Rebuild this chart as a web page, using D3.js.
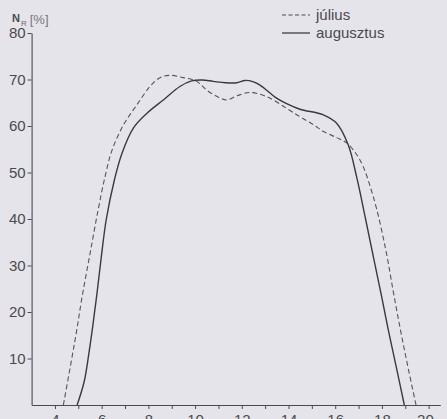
<!DOCTYPE html>
<html>
<head>
<meta charset="utf-8">
<script src="https://cdn.jsdelivr.net/npm/d3@7"></script>
<style>
  html, body { margin: 0; padding: 0; background: #e6e4eb; }
  svg { display: block; }
</style>
</head>
<body>
<div id="chart"></div>
<script>
// July (dashed) readings: hour of day, N_R %
const juliusHours = [4.36, 4.71, 4.93, 5.14, 5.5, 5.85, 6.14, 6.43, 6.93, 7.5, 8.07, 8.5, 8.93, 9.5, 10.07,
  10.5, 11.0, 11.35, 11.8, 12.35, 13.07, 13.92, 14.49, 15.06, 15.5, 16.06, 16.5, 17.06, 17.63, 18.16,
  18.5, 18.8, 19.1, 19.46];
const juliusValues = [0, 9.7, 16, 22.6, 32.5, 42, 49, 54.6, 60.2, 64.5, 68.5, 70.4, 70.9, 70.4, 69.6,
  67.7, 66.2, 65.6, 66.5, 67.2, 66.3, 63.8, 62, 60.3, 58.8, 57.5, 56.3, 52.7, 44.8, 33.5,
  24, 16, 8.5, 0];

// August (solid) readings
const augusztusHours = [4.95, 5.25, 5.45, 5.62, 5.8, 6.0, 6.2, 6.55, 6.86, 7.35, 7.93, 8.64, 9.35, 9.85,
  10.3, 10.78, 11.3, 11.78, 12.14, 12.5, 12.78, 13.49, 13.92, 14.49, 15.49, 16.06, 16.56, 16.92, 17.3,
  17.65, 17.98, 18.28, 18.6, 18.96];
const augusztusValues = [0, 5, 11, 17, 24, 32.5, 40, 48.5, 54, 59.5, 62.7, 65.6, 68.5, 69.7,
  69.9, 69.6, 69.3, 69.3, 69.8, 69.5, 68.8, 66, 64.8, 63.6, 62.4, 60.6, 55.9, 49, 40,
  31.5, 23.5, 16, 8.5, 0];

const xTicks = d3.range(4, 21);
const yTicks = [10, 20, 30, 40, 50, 60, 70, 80];
const seriesNames = ['július', 'augusztus'];

const W = 447, H = 419;
const ink = '#4a4a4e';
const fontFamily = '"Liberation Sans", Arial, sans-serif';

const svg = d3.select('#chart').append('svg')
  .attr('width', W).attr('height', H);

svg.append('rect').attr('width', W).attr('height', H).attr('fill', '#e6e4eb');

const x = d3.scaleLinear().domain([3, 20.5]).range([31.6, 440.3]);
const y = d3.scaleLinear().domain([0, 80]).range([405, 33]);

// x axis
const xAxis = svg.append('g')
  .attr('transform', 'translate(0,' + y(0) + ')')
  .call(d3.axisBottom(x)
    .tickValues(xTicks)
    .tickSize(4)
    .tickSizeOuter(0)
    .tickPadding(5)
    .tickFormat((d) => (d % 2 === 0 ? d : '')));

xAxis.select('.domain').attr('stroke', ink).attr('stroke-width', 1.1);
xAxis.selectAll('line').attr('stroke', ink);
xAxis.selectAll('text')
  .attr('fill', ink)
  .attr('font-size', 15)
  .attr('font-family', fontFamily);

xAxis.selectAll('g.tick')
  .filter((d) => d === 20)
  .select('text')
  .attr('text-anchor', 'start')
  .attr('x', -12)
  .call((t) => t.append('tspan').attr('font-size', 8).attr('fill', '#7a797f').text('óra'));

// y axis
const yAxis = svg.append('g')
  .attr('transform', 'translate(' + x(3) + ',0)')
  .call(d3.axisLeft(y)
    .tickValues(yTicks)
    .tickSize(4)
    .tickSizeOuter(0)
    .tickPadding(2));

yAxis.select('.domain').attr('stroke', ink).attr('stroke-width', 1.1);
yAxis.selectAll('line').attr('stroke', ink);
yAxis.selectAll('text')
  .attr('fill', ink)
  .attr('font-size', 15)
  .attr('font-family', fontFamily);

// y axis title N_R [%]
const title = svg.append('text')
  .attr('x', 12).attr('y', 22)
  .attr('fill', ink)
  .attr('font-family', fontFamily);
title.append('tspan')
  .attr('font-size', 11).attr('font-weight', 'bold')
  .text('N');
title.append('tspan')
  .attr('dx', 1).attr('dy', 4)
  .attr('font-size', 8).attr('fill', '#6a696f')
  .text('R');
title.append('tspan')
  .attr('dx', 3).attr('dy', -2)
  .attr('font-size', 13).attr('fill', '#77767c')
  .text('[%]');

// curves
const line = d3.line()
  .curve(d3.curveCatmullRom.alpha(0.5))
  .x((d) => x(d[0]))
  .y((d) => y(d[1]));

const juliusData = juliusHours.map((h, i) => [h, juliusValues[i]]);
const augusztusData = augusztusHours.map((h, i) => [h, augusztusValues[i]]);

svg.append('path')
  .datum(juliusData)
  .attr('fill', 'none')
  .attr('stroke', '#55545a')
  .attr('stroke-width', 1.1)
  .attr('stroke-dasharray', '5,3')
  .attr('d', line);

svg.append('path')
  .datum(augusztusData)
  .attr('fill', 'none')
  .attr('stroke', '#3a393e')
  .attr('stroke-width', 1.4)
  .attr('d', line);

// legend
const legend = svg.append('g').attr('font-family', fontFamily);
const legendRows = [
  { name: seriesNames[0], dash: '4,2.5', y: 15, width: 1.1 },
  { name: seriesNames[1], dash: null, y: 33, width: 1.4 },
];
legendRows.forEach((r) => {
  legend.append('line')
    .attr('x1', 282).attr('x2', 310)
    .attr('y1', r.y).attr('y2', r.y)
    .attr('stroke', ink)
    .attr('stroke-width', r.width)
    .attr('stroke-dasharray', r.dash);
  legend.append('text')
    .attr('x', 316)
    .attr('y', r.y + 5)
    .attr('font-size', 15)
    .attr('fill', ink)
    .text(r.name);
});
</script>
</body>
</html>
